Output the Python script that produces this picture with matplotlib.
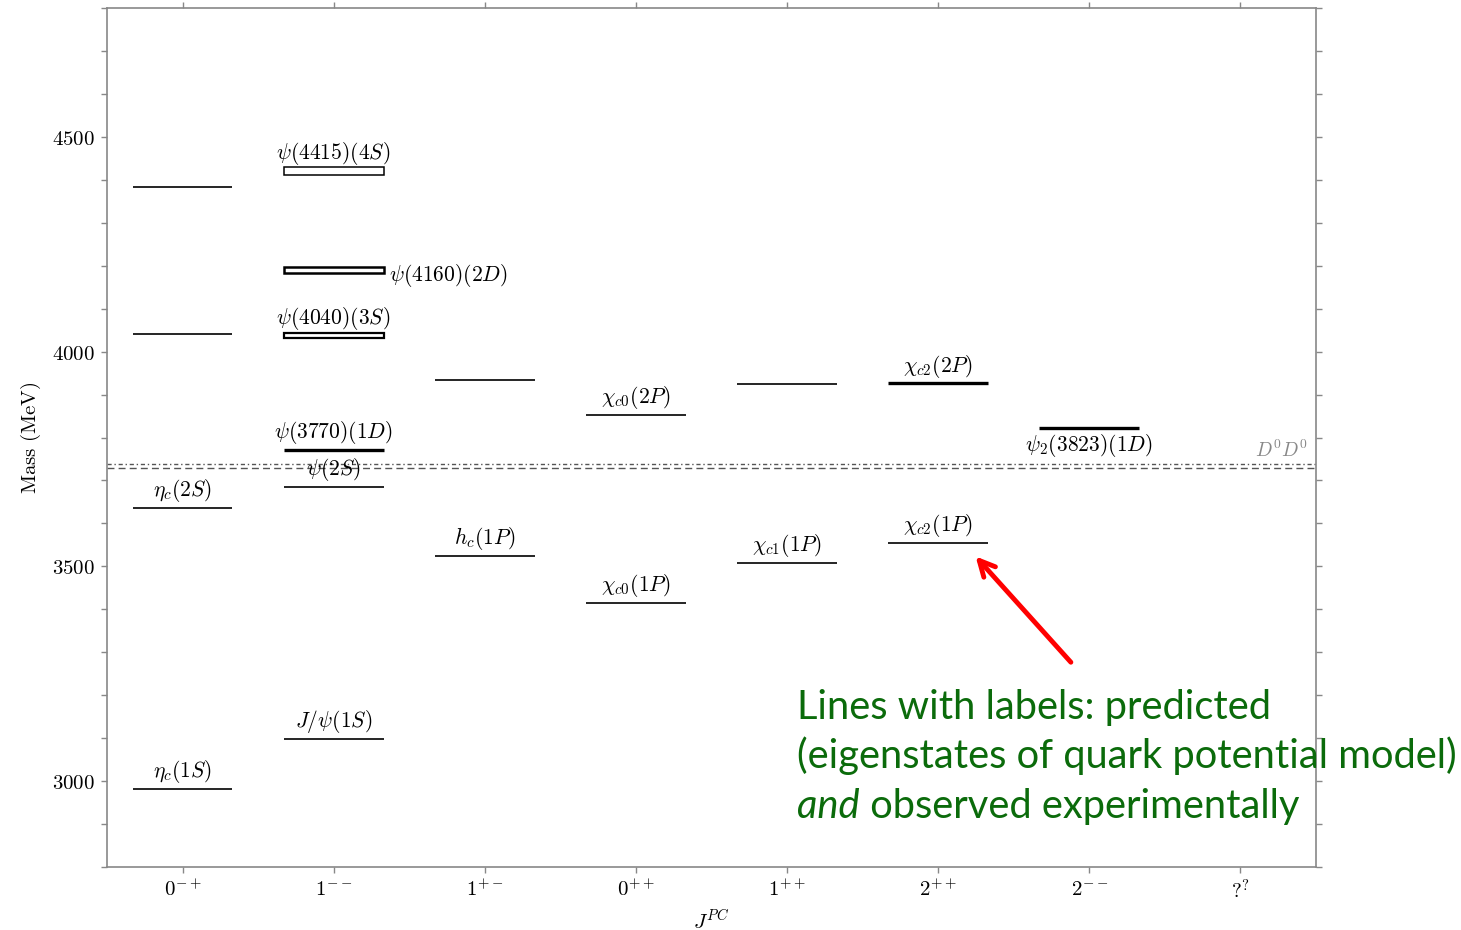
import matplotlib
matplotlib.use('Agg')
import matplotlib.pyplot as plt
from matplotlib.ticker import MultipleLocator, FixedLocator, FuncFormatter

plt.rcParams['mathtext.fontset'] = 'cm'

# J^PC columns
jpc = [r'$0^{-+}$', r'$1^{--}$', r'$1^{+-}$', r'$0^{++}$', r'$1^{++}$', r'$2^{++}$', r'$2^{--}$', r'$?^{?}$']

# predicted-only levels (no label)
pred_col = [0, 0, 2, 4]
pred_mass = [4384, 4042, 3935, 3925]

# predicted and observed states
state_col = [0, 0, 1, 1, 1, 1, 1, 1, 2, 3, 3, 4, 5, 5, 6]
state_lo = [2981, 3637, 3098, 3684, 3772, 4031, 4184, 4411, 3525, 3414, 3852, 3509, 3555, 3926, 3823]
state_hi = [2981, 3637, 3098, 3684, 3772, 4043, 4196, 4429, 3525, 3414, 3852, 3509, 3555, 3926, 3823]
state_name = [r'$\eta_c(1S)$', r'$\eta_c(2S)$', r'$J/\psi(1S)$', r'$\psi(2S)$', r'$\psi(3770)(1D)$',
              r'$\psi(4040)(3S)$', r'$\psi(4160)(2D)$', r'$\psi(4415)(4S)$', r'$h_c(1P)$',
              r'$\chi_{c0}(1P)$', r'$\chi_{c0}(2P)$', r'$\chi_{c1}(1P)$', r'$\chi_{c2}(1P)$',
              r'$\chi_{c2}(2P)$', r'$\psi_2(3823)(1D)$']
# where the label goes, and line weight
state_pos = ['above'] * 6 + ['right', 'above'] + ['above'] * 6 + ['below']
state_lw = [1.2, 1.2, 1.2, 1.2, 2.4, 1.6, 1.8, 1.1, 1.2, 1.2, 1.2, 1.2, 1.2, 2.4, 2.4]

# open-charm thresholds
thr_mass = [3730, 3739]
thr_style = [(0, (5, 3)), (0, (3, 2, 1, 2))]

fig = plt.figure(figsize=(14.61, 9.30), dpi=100)
ax = fig.add_axes([0.0732, 0.0677, 0.8276, 0.9237])

hw = 0.33
for c, m in zip(pred_col, pred_mass):
    ax.hlines(m, c - hw, c + hw, color='k', lw=1.2)

for c, lo, hi, name, pos, lw in zip(state_col, state_lo, state_hi, state_name, state_pos, state_lw):
    mid = (lo + hi) / 2
    if hi > lo:
        ax.bar(c, hi - lo, width=2 * hw, bottom=lo, fill=False, edgecolor='k', linewidth=lw)
    else:
        ax.hlines(lo, c - hw, c + hw, color='k', lw=lw)
    if pos == 'above':
        ax.annotate(name, (c, mid), xytext=(0, 2.8), textcoords='offset points',
                    ha='center', va='bottom', fontsize=15.5)
    elif pos == 'below':
        ax.annotate(name, (c, mid), xytext=(0, -3), textcoords='offset points',
                    ha='center', va='top', fontsize=15.5)
    else:
        ax.annotate(name, (c + hw, mid), xytext=(4, -4), textcoords='offset points',
                    ha='left', va='center', fontsize=15.5)

for m, ls in zip(thr_mass, thr_style):
    ax.axhline(m, color='#555555', lw=1.0, linestyle=ls)
ax.annotate(r'$D^0 D^0$', (7.45, thr_mass[1]), xytext=(0, 2), textcoords='offset points',
            ha='right', va='bottom', fontsize=14, color='#888888')

ax.set_xlim(-0.5, 7.5)
ax.set_ylim(2800, 4800)
ax.set_xticks(range(len(jpc)))
ax.set_xticklabels(jpc, fontsize=15)
ax.yaxis.set_major_locator(FixedLocator([3000, 3500, 4000, 4500]))
ax.yaxis.set_minor_locator(MultipleLocator(100))
ax.yaxis.set_major_formatter(FuncFormatter(lambda v, p: '$%d$' % v))
ax.tick_params(axis='both', which='both', direction='out', length=4.5, width=1,
               color='#888888', labelsize=15, top=True, right=True, pad=4)
for s in ax.spines.values():
    s.set_color('#888888')
    s.set_linewidth(1.2)
ax.set_xlabel(r'$J^{PC}$', fontsize=15, labelpad=4)
ax.set_ylabel(r'$\mathrm{Mass\ (MeV)}$', fontsize=15, labelpad=7)

# slide annotation
ax.annotate('', xy=(5.235, 3528), xytext=(5.89, 3272),
            arrowprops=dict(arrowstyle='->', color='red', lw=3.5, mutation_scale=28))
green = '#0b6b0b'
fsz = 28.7
fig.text(797 / 1461, 1 - 719 / 930, 'Lines with labels: predicted', fontsize=fsz,
         family='Lato', color=green, va='baseline')
fig.text(797 / 1461, 1 - 768 / 930, '(eigenstates of quark potential model)', fontsize=fsz,
         family='Lato', color=green, va='baseline')
t = fig.text(797 / 1461, 1 - 818 / 930, 'and', fontsize=fsz, family='Lato',
             style='italic', color=green, va='baseline')
fig.canvas.draw()
bb = t.get_window_extent()
fig.text(bb.x1 / fig.bbox.width, 1 - 818 / 930, ' observed experimentally', fontsize=fsz,
         family='Lato', color=green, va='baseline')

fig.savefig('out.png', dpi=100)
